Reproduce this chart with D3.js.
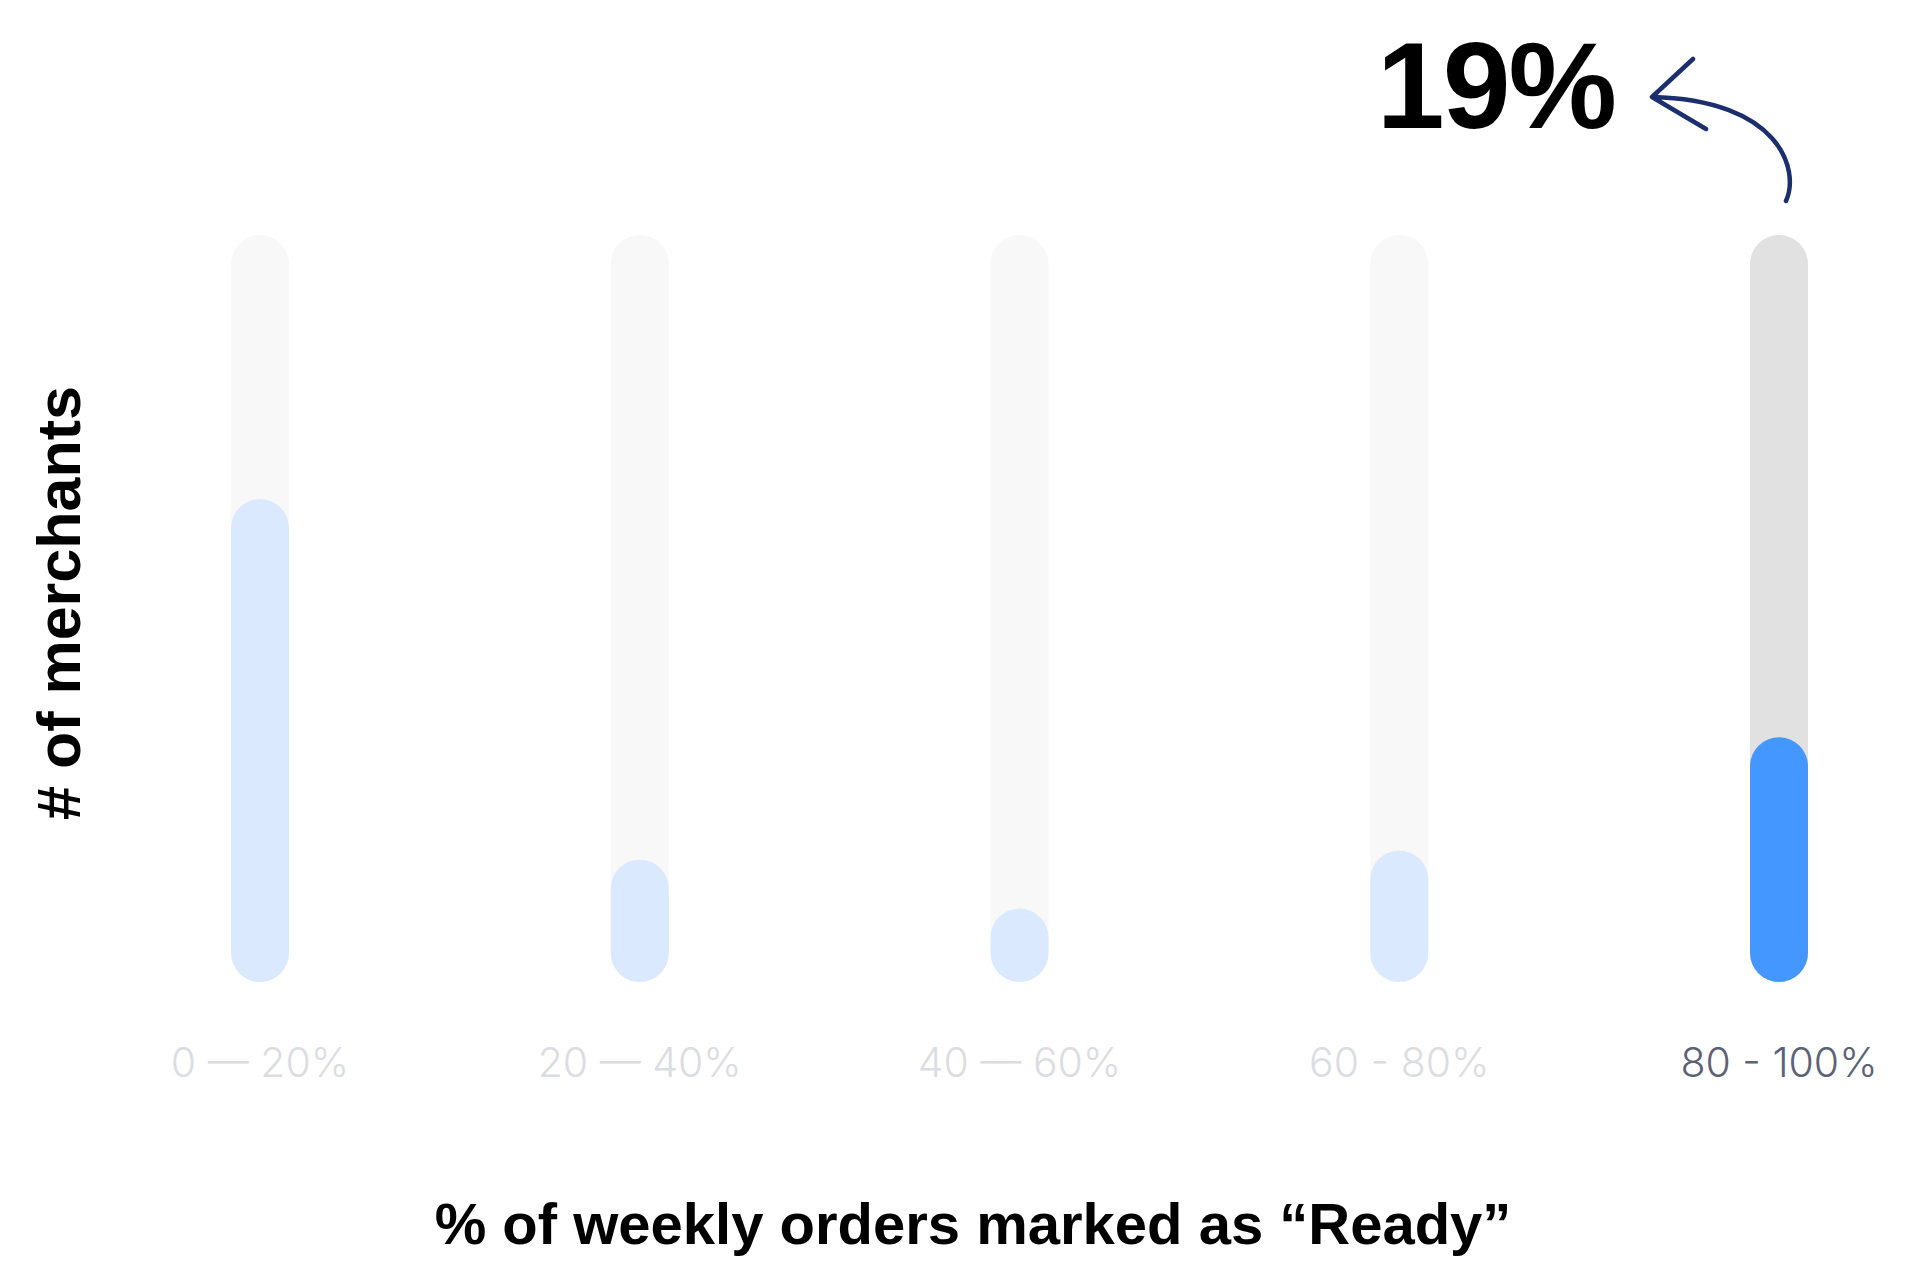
<!DOCTYPE html>
<html>
<head>
<meta charset="utf-8">
<script src="https://cdn.jsdelivr.net/npm/d3@7"></script>
<style>
  body { margin: 0; background: #fff; }
</style>
</head>
<body>
<script>
// data
const bins = ["0 — 20%", "20 — 40%", "40 — 60%", "60 - 80%", "80 - 100%"];
const merchantShare = [37.5, 9.5, 5.7, 10.2, 19];
const highlightBin = "80 - 100%";
const yMax = 58;
const calloutText = "19%";
const xTitle = "% of weekly orders marked as “Ready”";
const yTitle = "# of merchants";

const W = 1920, H = 1263;
const barW = 58;

const x = d3.scalePoint()
  .domain(bins)
  .range([260, 1779]);

const y = d3.scaleLinear()
  .domain([0, yMax])
  .range([982, 235]);

const data = bins.map((b, i) => ({ bin: b, value: merchantShare[i], hi: b === highlightBin }));

const svg = d3.select("body")
  .append("svg")
    .attr("width", W)
    .attr("height", H)
    .style("background", "#fff");

// background tracks
svg.selectAll(".track")
  .data(data)
  .join("rect")
    .attr("class", "track")
    .attr("x", d => x(d.bin) - barW / 2)
    .attr("y", y(yMax))
    .attr("width", barW)
    .attr("height", y(0) - y(yMax))
    .attr("rx", barW / 2)
    .style("fill", d => d.hi ? "#e1e1e1" : "#f8f8f8");

// value pills
svg.selectAll(".bar")
  .data(data)
  .join("rect")
    .attr("class", "bar")
    .attr("x", d => x(d.bin) - barW / 2)
    .attr("y", d => y(d.value))
    .attr("width", barW)
    .attr("height", d => y(0) - y(d.value))
    .attr("rx", barW / 2)
    .style("fill", d => d.hi ? "#4397fe" : "#dae9fd");

// bin labels
svg.selectAll(".bin-label")
  .data(data)
  .join("text")
    .attr("class", "bin-label")
    .attr("x", d => x(d.bin))
    .attr("y", 1077)
    .attr("text-anchor", "middle")
    .style("font-family", "Inter, 'Open Sans', sans-serif")
    .style("font-weight", 300)
    .style("font-size", "41px")
    .style("fill", d => d.hi ? "#5b6276" : "#dcdde2")
    .text(d => d.bin);

// axis titles
svg.append("text")
  .attr("x", 973)
  .attr("y", 1244)
  .attr("text-anchor", "middle")
  .style("font-family", "'Liberation Sans', Arial, sans-serif")
  .style("font-weight", "bold")
  .style("font-size", "58px")
  .style("fill", "#000")
  .text(xTitle);

svg.append("text")
  .attr("transform", "translate(80,603) rotate(-90)")
  .attr("text-anchor", "middle")
  .style("font-family", "'Liberation Sans', Arial, sans-serif")
  .style("font-weight", "bold")
  .style("font-size", "61px")
  .style("fill", "#000")
  .text(yTitle);

// callout
svg.append("text")
  .attr("x", 1615)
  .attr("y", 128)
  .attr("text-anchor", "end")
  .style("font-family", "'Liberation Sans', Arial, sans-serif")
  .style("font-weight", "bold")
  .style("font-size", "122px")
  .style("letter-spacing", "-2px")
  .style("fill", "#000")
  .text(calloutText);

const hiX = x(highlightBin);
const arrow = d3.path();
arrow.moveTo(hiX + 7, 201);
arrow.bezierCurveTo(hiX + 21, 170, hiX + 1, 100, 1652, 97);
arrow.moveTo(1693, 59);
arrow.lineTo(1652, 97);
arrow.lineTo(1706, 129);

svg.append("path")
  .attr("d", arrow.toString())
  .style("fill", "none")
  .style("stroke", "#1b2f6e")
  .style("stroke-width", 4.5)
  .style("stroke-linecap", "round")
  .style("stroke-linejoin", "round");
</script>
</body>
</html>
